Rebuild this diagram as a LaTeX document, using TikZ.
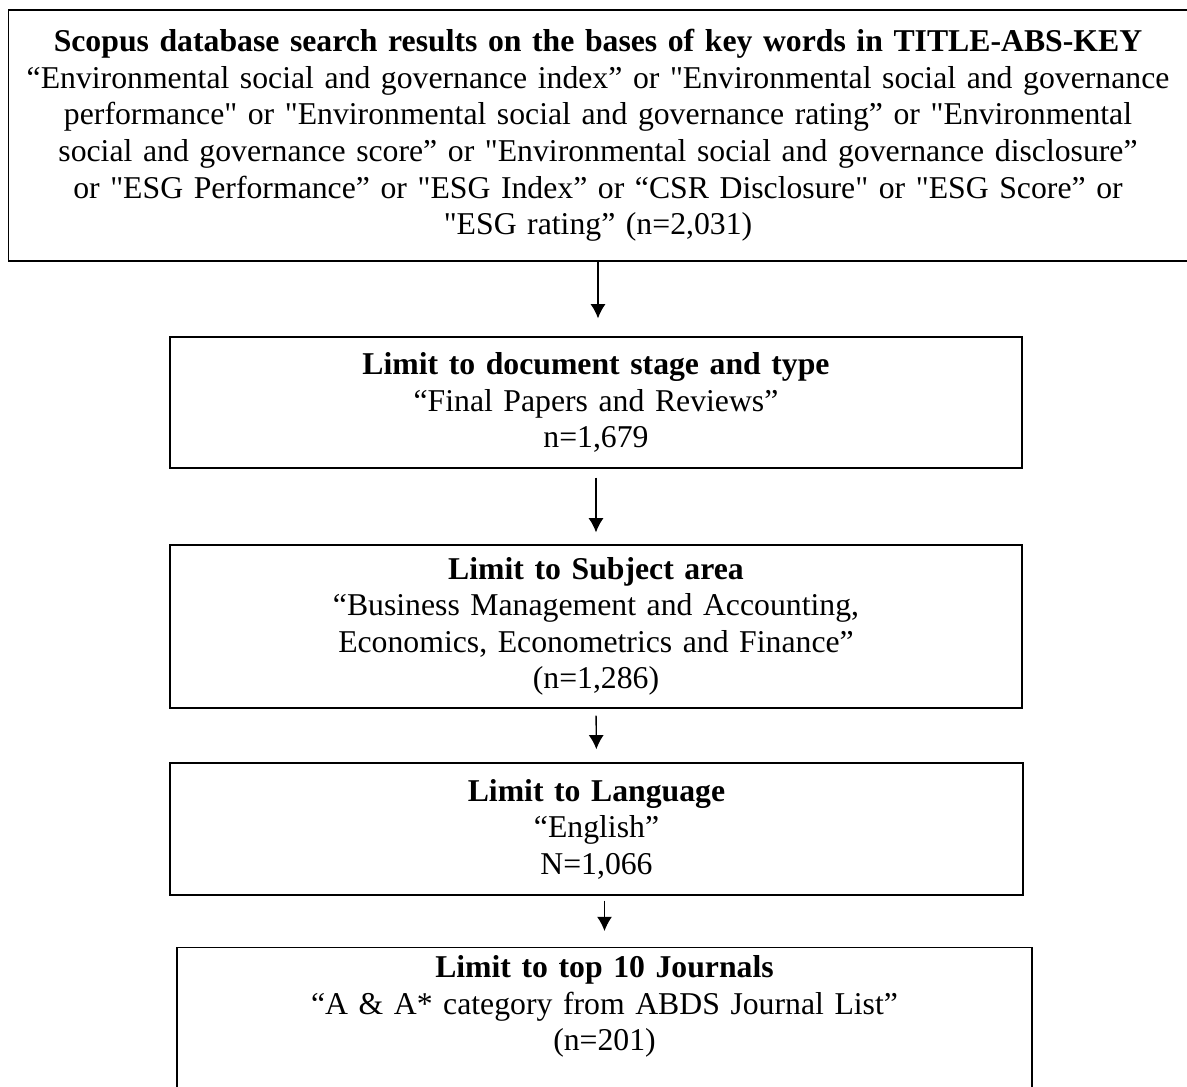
\documentclass[tikz,border=0pt]{standalone}
\usepackage{fontspec}
\setmainfont{Liberation Serif}[Ligatures=TeXOff]
\usetikzlibrary{arrows.meta}
\begin{document}
\begin{tikzpicture}[x=0.375pt,y=-0.375pt,
  box/.style={draw,line width=0.5pt,align=center,inner sep=3pt,font=\fontsize{11.9}{13.7}\selectfont},
  flow/.style={line width=0.5pt,-{Latex[length=5.3pt,width=5.6pt]}}]
  \useasboundingbox (0,0) rectangle (1187,1087);
  \node[box,text width=436pt,minimum width=441pt,minimum height=94.1pt] (search) at (598,135.5)
    {\textbf{Scopus database search results on the bases of key words in TITLE-ABS-KEY}\\
     “Environmental social and governance index” or "Environmental social and governance\\
     performance" or "Environmental social and governance rating” or "Environmental\\
     social and governance score” or "Environmental social and governance disclosure”\\
     or "ESG Performance” or "ESG Index” or “CSR Disclosure" or "ESG Score” or\\
     "ESG rating” (n=2,031)};
  \node[box,text width=312pt,minimum width=319.5pt,minimum height=49.1pt] (stage) at (596,402.5)
    {\textbf{Limit to document stage and type}\\“Final Papers and Reviews”\\n=1,679};
  \node[box,text width=312pt,minimum width=319.5pt,minimum height=61.1pt] (subject) at (596,626.5)
    {\textbf{Limit to Subject area}\\“Business Management and Accounting,\\Economics, Econometrics and Finance”\\(n=1,286)};
  \node[box,text width=312pt,minimum width=319.9pt,minimum height=49.5pt] (language) at (596.5,829)
    {\textbf{Limit to Language}\\“English”\\N=1,066};
  \node[box,text width=312pt,minimum width=320.6pt,text depth=40pt,anchor=north] (journals) at (604.5,947)
    {\textbf{Limit to top 10 Journals}\\“A \& A* category from ABDS Journal List”\\(n=201)};
  \draw[flow,shorten >=6.75pt] (search.south) -- (search.south |- stage.north);
  \draw[flow,shorten <=3.4pt,shorten >=4.5pt] (stage.south) -- (subject.north);
  \draw[flow,shorten <=2.6pt,shorten >=4.9pt] (subject.south) -- (language.north);
  \draw[flow,shorten <=1.9pt,shorten >=6pt] (language.south -| journals.north) -- (journals.north);
\end{tikzpicture}
\end{document}
